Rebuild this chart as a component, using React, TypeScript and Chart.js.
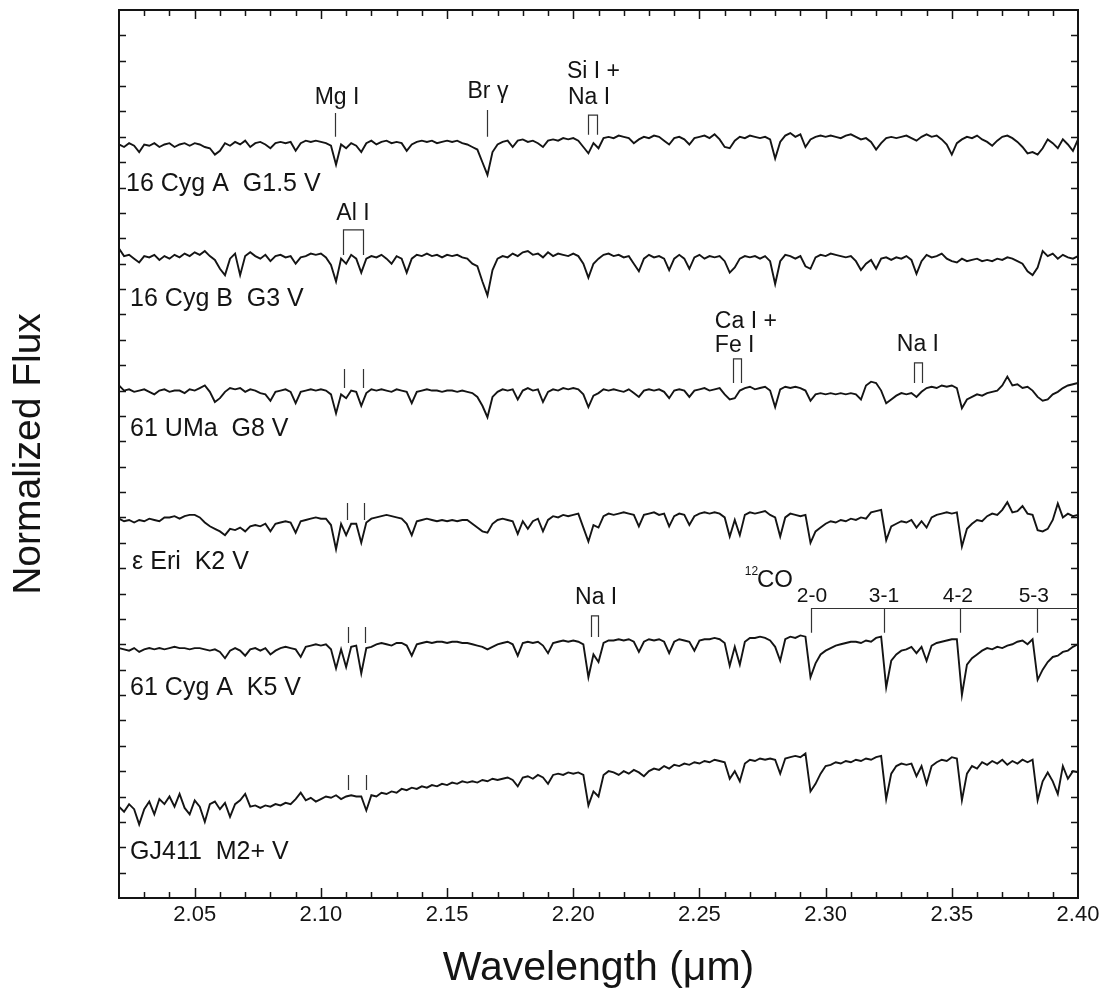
import { useEffect, useRef } from 'react';
import { Chart, registerables } from 'chart.js';

Chart.register(...registerables);

const FONT = '"Liberation Sans", Arial, Helvetica, sans-serif';
const INK = '#141414';

// Wavelength grid (micron)
const WAVELENGTHS = [
  2.020, 2.022, 2.024, 2.026, 2.028, 2.030, 2.032, 2.034, 2.036, 2.038,
  2.040, 2.042, 2.044, 2.046, 2.048, 2.050, 2.052, 2.054, 2.056, 2.058,
  2.060, 2.062, 2.064, 2.066, 2.068, 2.070, 2.072, 2.074, 2.076, 2.078,
  2.080, 2.082, 2.084, 2.086, 2.088, 2.090, 2.092, 2.094, 2.096, 2.098,
  2.100, 2.102, 2.104, 2.106, 2.108, 2.110, 2.112, 2.114, 2.116, 2.118,
  2.120, 2.122, 2.124, 2.126, 2.128, 2.130, 2.132, 2.134, 2.136, 2.138,
  2.140, 2.142, 2.144, 2.146, 2.148, 2.150, 2.152, 2.154, 2.156, 2.158,
  2.160, 2.162, 2.164, 2.166, 2.168, 2.170, 2.172, 2.174, 2.176, 2.178,
  2.180, 2.182, 2.184, 2.186, 2.188, 2.190, 2.192, 2.194, 2.196, 2.198,
  2.200, 2.202, 2.204, 2.206, 2.208, 2.210, 2.212, 2.214, 2.216, 2.218,
  2.220, 2.222, 2.224, 2.226, 2.228, 2.230, 2.232, 2.234, 2.236, 2.238,
  2.240, 2.242, 2.244, 2.246, 2.248, 2.250, 2.252, 2.254, 2.256, 2.258,
  2.260, 2.262, 2.264, 2.266, 2.268, 2.270, 2.272, 2.274, 2.276, 2.278,
  2.280, 2.282, 2.284, 2.286, 2.288, 2.290, 2.292, 2.294, 2.296, 2.298,
  2.300, 2.302, 2.304, 2.306, 2.308, 2.310, 2.312, 2.314, 2.316, 2.318,
  2.320, 2.322, 2.324, 2.326, 2.328, 2.330, 2.332, 2.334, 2.336, 2.338,
  2.340, 2.342, 2.344, 2.346, 2.348, 2.350, 2.352, 2.354, 2.356, 2.358,
  2.360, 2.362, 2.364, 2.366, 2.368, 2.370, 2.372, 2.374, 2.376, 2.378,
  2.380, 2.382, 2.384, 2.386, 2.388, 2.390, 2.392, 2.394, 2.396, 2.398,
  2.400,
];

// Normalized flux of each star
const FLUX_16_CYG_A = [
  0.97, 0.96, 0.975, 0.965, 0.94, 0.97, 0.965, 0.975, 0.96, 0.97,
  0.975, 0.96, 0.97, 0.975, 0.965, 0.975, 0.97, 0.96, 0.955, 0.93,
  0.945, 0.975, 0.965, 0.98, 0.97, 0.985, 0.96, 0.975, 0.98, 0.97,
  0.955, 0.975, 0.98, 0.975, 0.98, 0.945, 0.975, 0.985, 0.98, 0.985,
  0.98, 0.975, 0.965, 0.89, 0.97, 0.955, 0.975, 0.965, 0.94, 0.975,
  0.985, 0.97, 0.98, 0.985, 0.975, 0.98, 0.975, 0.945, 0.97, 0.98,
  0.985, 0.98, 0.985, 0.975, 0.98, 0.985, 0.98, 0.985, 0.975, 0.97,
  0.96, 0.95, 0.90, 0.85, 0.94, 0.97, 0.98, 0.985, 0.96, 0.985,
  0.99, 0.98, 0.985, 0.975, 0.96, 0.985, 0.99, 0.985, 0.995, 0.99,
  0.995, 0.985, 0.96, 0.935, 0.975, 0.955, 0.995, 1.0, 0.995, 1.005,
  1.0, 0.995, 0.975, 0.99, 1.0, 0.995, 1.005, 1.0, 0.985, 0.97,
  0.995, 1.0, 0.99, 0.97, 0.995, 1.0, 1.005, 0.995, 1.01, 0.99,
  0.96, 0.955, 0.985, 1.0, 0.995, 1.005, 1.0, 0.995, 1.0, 0.99,
  0.915, 0.98, 1.005, 1.015, 1.0, 1.01, 0.96, 0.99, 1.0, 1.005,
  1.0, 1.005, 1.0, 0.995, 1.005, 1.01, 1.0, 0.99, 0.995, 0.98,
  0.95, 0.975, 0.995, 1.0, 0.995, 1.0, 1.005, 0.995, 0.985, 1.0,
  1.01, 1.0, 1.005, 0.99, 0.97, 0.93, 0.975, 0.99, 1.0, 0.995,
  1.005, 0.99, 0.98, 0.965, 0.985, 1.0, 1.005, 0.995, 0.98, 0.96,
  0.935, 0.94, 0.93, 0.955, 0.99, 0.975, 0.955, 0.99, 0.97, 0.945,
  0.99,
];

const FLUX_16_CYG_B = [
  1.06, 1.03, 1.035, 1.02, 1.005, 1.03, 1.025, 1.035, 1.015, 1.03,
  1.02, 1.035, 1.025, 1.04, 1.03, 1.045, 1.035, 1.05, 1.03, 1.015,
  0.98, 0.955, 1.02, 1.04, 0.955, 1.03, 1.045, 1.03, 1.02, 1.035,
  1.01, 1.03, 1.035, 1.025, 1.03, 1.0, 1.025, 1.03, 1.04, 1.035,
  1.04, 1.025, 0.995, 0.93, 1.02, 1.0, 1.035, 1.02, 0.965, 1.02,
  1.03, 1.025, 1.035, 1.02, 1.0, 1.03, 1.02, 0.965, 1.02, 1.035,
  1.03, 1.04, 1.03, 1.035, 1.025, 1.035, 1.03, 1.035, 1.025, 1.02,
  1.0, 0.99, 0.93, 0.875, 0.975, 1.02, 1.03, 1.025, 1.04, 1.03,
  1.045, 1.05, 1.035, 1.04, 1.025, 1.045, 1.03, 1.04, 1.035, 1.03,
  1.04, 1.03, 1.0, 0.945, 1.0, 1.02, 1.035, 1.04, 1.03, 1.035,
  1.025, 1.03, 1.0, 0.97, 1.02, 1.035, 1.025, 1.03, 1.02, 0.975,
  1.02, 1.035, 1.02, 0.98, 1.025, 1.035, 1.02, 1.03, 1.025, 1.03,
  1.01, 0.965, 0.985, 1.02, 1.03, 1.025, 1.03, 1.02, 1.03, 1.01,
  0.92, 1.01, 1.035, 1.03, 1.02, 1.03, 0.99, 0.98, 1.025, 1.035,
  1.03, 1.04, 1.035, 1.03, 1.025, 1.03, 1.01, 0.975, 1.0, 1.015,
  0.98, 1.02, 1.025, 1.015, 1.025, 1.02, 1.03, 1.015, 0.96, 1.01,
  1.035, 1.025, 1.03, 1.04, 1.02, 1.01, 1.005, 1.02, 1.01, 1.015,
  1.02, 1.01, 1.015, 1.01, 1.02, 1.015, 1.025, 1.02, 1.01, 1.0,
  0.97, 0.955, 0.985, 1.05, 1.03, 1.04, 1.02, 1.035, 1.025, 1.02,
  1.03,
];

const FLUX_61_UMA = [
  1.02, 1.0, 1.005, 0.995, 1.0, 1.005, 0.995, 0.985, 1.0, 1.005,
  0.995, 1.0, 1.0, 0.99, 1.005, 1.0, 1.01, 1.02, 0.995, 0.955,
  0.97, 0.995, 1.01, 1.005, 1.01, 0.995, 1.005, 1.0, 0.99, 0.985,
  0.96, 0.995, 1.0, 1.005, 0.995, 0.95, 0.995, 1.0, 1.005, 1.0,
  1.005, 1.0, 0.985, 0.91, 0.985, 0.97, 1.0, 0.995, 0.94, 0.99,
  1.005, 1.0, 1.005, 1.0, 0.995, 1.005, 1.0, 0.995, 0.95, 0.995,
  1.0, 1.005, 1.0, 1.0, 0.995, 1.0, 1.0, 0.995, 1.0, 0.995,
  0.99, 0.975, 0.94, 0.895, 0.975, 0.995, 1.005, 1.0, 1.005, 0.965,
  1.0, 1.01, 1.0, 1.005, 0.955, 0.995, 1.005, 1.0, 1.01, 1.005,
  1.01, 1.005, 0.985, 0.935, 0.98, 0.99, 1.005, 1.0, 1.005, 1.0,
  0.995, 1.005, 0.99, 0.975, 1.0, 1.005, 1.0, 1.005, 0.995, 0.97,
  1.0, 1.005, 1.0, 0.975, 1.0, 1.005, 1.01, 1.0, 1.005, 1.01,
  0.985, 0.965, 0.97, 1.0, 1.01, 1.015, 1.005, 1.01, 1.015, 1.0,
  0.935, 1.005, 1.015, 1.01, 1.015, 1.01, 1.0, 0.96, 0.985, 0.99,
  0.985, 0.99, 0.985, 0.99, 0.985, 0.99, 0.985, 0.965, 1.02, 1.035,
  1.03, 1.0, 0.95, 0.965, 0.98, 0.99, 0.985, 0.99, 0.975, 0.995,
  1.01, 1.015, 1.01, 1.02, 1.015, 1.02, 1.01, 0.93, 0.965, 0.975,
  0.985, 0.98, 0.99, 0.995, 1.0, 1.02, 1.055, 1.02, 1.025, 1.01,
  1.015, 1.0, 0.975, 0.96, 0.965, 0.985, 0.995, 1.01, 1.02, 1.025,
  1.03,
];

const FLUX_EPS_ERI = [
  0.995, 0.985, 0.99, 0.98, 0.99, 0.985, 0.995, 0.99, 0.985, 1.0,
  1.0, 1.005, 0.995, 1.005, 1.01, 1.01, 1.0, 0.98, 0.965, 0.955,
  0.945, 0.93, 0.955, 0.95, 0.96, 0.945, 0.965, 0.97, 0.965, 0.975,
  0.945, 0.975, 0.98, 0.985, 0.98, 0.94, 0.985, 0.99, 0.995, 1.0,
  0.995, 0.995, 0.97, 0.875, 0.975, 0.93, 0.975, 0.975, 0.9, 0.98,
  0.995, 1.0, 1.005, 1.01, 1.005, 1.0, 0.995, 0.975, 0.93, 0.985,
  0.99, 0.995, 0.99, 0.985, 0.99, 0.985, 0.99, 0.985, 0.99, 0.99,
  0.975, 0.96, 0.945, 0.94, 0.975, 0.99, 0.995, 0.99, 0.985, 0.935,
  0.985, 0.955, 0.985, 0.995, 0.945, 0.99, 1.005, 1.0, 1.01, 1.005,
  1.01, 1.015, 0.96, 0.905, 0.97, 0.96, 1.005, 1.015, 1.01, 1.015,
  1.02, 1.015, 1.01, 0.965, 1.01, 1.015, 1.02, 1.01, 1.015, 0.965,
  1.005, 1.015, 1.01, 0.97, 1.005, 1.015, 1.02, 1.015, 1.02, 1.015,
  1.0, 0.925, 0.99, 0.93, 1.01, 1.02, 1.015, 1.02, 1.025, 1.01,
  1.0, 0.925, 1.0, 1.015, 1.01, 1.005, 1.01, 0.9, 0.945, 0.96,
  0.975, 0.985, 0.98, 0.99, 0.985, 0.995, 0.99, 1.0, 0.995, 1.02,
  1.025, 1.03, 0.91, 0.965, 0.975, 0.985, 0.98, 0.99, 0.96, 0.985,
  0.96, 1.0, 1.01, 1.015, 1.02, 1.015, 1.02, 0.885, 0.955, 0.975,
  0.99, 0.985, 1.005, 1.015, 1.01, 1.03, 1.06, 1.02, 1.025, 1.045,
  1.015, 1.01, 0.95, 0.945, 0.955, 0.99, 1.055, 1.0, 1.015, 1.005,
  1.01,
];

const FLUX_61_CYG_A = [
  0.985, 0.98, 0.975, 0.985, 0.97, 0.98, 0.985, 0.98, 0.985, 0.98,
  0.985, 0.99, 0.985, 0.985, 0.98, 0.985, 0.985, 0.98, 0.975, 0.98,
  0.97, 0.945, 0.975, 0.985, 0.975, 0.955, 0.98, 0.985, 0.975, 0.985,
  0.96, 0.975, 0.985, 0.99, 0.985, 0.98, 0.95, 0.99, 0.995, 1.0,
  0.995, 1.0, 0.98, 0.905, 0.98, 0.91, 0.99, 0.995, 0.885, 0.985,
  0.99, 1.0, 1.005, 1.0, 0.995, 1.005, 1.005, 0.995, 0.955, 1.0,
  1.005, 1.01, 1.005, 1.01, 1.01, 1.005, 1.01, 1.01, 1.005, 1.005,
  1.0, 0.995, 0.99, 0.98, 0.99, 1.0, 1.005, 1.01, 1.0, 0.955,
  1.005, 1.01, 1.005, 1.01, 0.995, 0.965, 1.005, 1.01, 1.015, 1.01,
  1.015, 1.01, 1.0, 0.87, 0.96, 0.93, 1.005, 1.015, 1.015, 1.02,
  1.015, 1.02, 1.01, 0.97, 1.01, 1.02, 1.015, 1.02, 1.01, 0.965,
  1.01, 1.02, 1.015, 1.01, 0.975, 1.015, 1.02, 1.02, 1.025, 1.02,
  1.005, 0.915, 0.99, 0.92, 1.01, 1.025, 1.025, 1.03, 1.025, 1.015,
  0.99, 0.935, 1.02, 1.03, 1.025, 1.035, 1.03, 0.87, 0.925, 0.96,
  0.975, 0.985, 0.995, 1.0, 1.005, 1.01, 1.01, 1.005, 1.015, 1.01,
  1.025, 1.03, 0.83, 0.935, 0.96, 0.975, 0.98, 0.99, 0.965, 0.99,
  0.935, 0.995, 1.005, 1.01, 1.015, 1.02, 1.02, 0.80, 0.92, 0.945,
  0.96, 0.975, 0.985, 0.98, 0.99, 0.985, 0.995, 1.0, 1.01, 1.015,
  1.0, 1.02, 0.86, 0.9, 0.93, 0.95, 0.955, 0.97, 0.975, 0.99,
  1.0,
];

const FLUX_GJ411 = [
  0.86, 0.84, 0.87, 0.85, 0.79, 0.85, 0.88, 0.83, 0.89, 0.87,
  0.9, 0.86, 0.91, 0.855, 0.83, 0.885, 0.86, 0.80, 0.87, 0.88,
  0.85, 0.875, 0.82, 0.87, 0.885, 0.91, 0.86, 0.865, 0.855, 0.865,
  0.86, 0.87, 0.865, 0.875, 0.87, 0.89, 0.915, 0.885, 0.895, 0.88,
  0.89, 0.9, 0.895, 0.905, 0.89, 0.9, 0.905, 0.9, 0.9, 0.845,
  0.905, 0.9, 0.915, 0.91, 0.92, 0.915, 0.93, 0.925, 0.935, 0.93,
  0.94, 0.935, 0.945, 0.94, 0.95, 0.945, 0.955, 0.95, 0.96, 0.955,
  0.96, 0.955, 0.965, 0.96, 0.97, 0.965, 0.97, 0.975, 0.965, 0.94,
  0.975, 0.98, 0.97, 0.985, 0.975, 0.95, 0.985, 0.99, 0.985, 0.995,
  0.99, 0.995, 0.985, 0.865, 0.92, 0.9, 0.985, 1.0, 0.995, 0.985,
  1.0, 0.99, 1.005, 0.995, 0.98, 1.0, 1.01, 1.005, 1.02, 1.01,
  1.025, 1.02, 1.03, 1.025, 1.035, 1.03, 1.04, 1.035, 1.045, 1.04,
  1.035, 0.97, 1.0, 0.96, 1.03, 1.045, 1.04, 1.05, 1.045, 1.05,
  1.045, 0.99, 1.05, 1.055, 1.06, 1.055, 1.07, 0.92, 0.95, 0.99,
  1.02, 1.025, 1.035, 1.03, 1.04, 1.035, 1.045, 1.04, 1.05, 1.045,
  1.055, 1.06, 0.89, 0.99, 1.02, 1.03, 1.025, 1.03, 0.98, 1.02,
  0.95, 1.02, 1.035, 1.045, 1.04, 1.055, 1.05, 0.885, 0.99, 1.02,
  1.01, 1.035, 1.025, 1.04, 1.03, 1.045, 1.025, 1.04, 1.03, 1.045,
  1.035, 1.045, 0.885, 0.96, 0.995, 0.96, 0.91, 1.02, 0.97, 1.0,
  0.995,
];

const STAR_NAMES = [
  '16 Cyg A  G1.5 V',
  '16 Cyg B  G3 V',
  '61 UMa  G8 V',
  'ε Eri  K2 V',
  '61 Cyg A  K5 V',
  'GJ411  M2+ V',
];
const STAR_FLUXES = [FLUX_16_CYG_A, FLUX_16_CYG_B, FLUX_61_UMA, FLUX_EPS_ERI, FLUX_61_CYG_A, FLUX_GJ411];
// vertical offsets added for display
const OFFSETS = [2.0, 1.5, 1.0, 0.5, 0.0, -0.5];

const X_LABEL_TICKS = [2.05, 2.10, 2.15, 2.20, 2.25, 2.30, 2.35, 2.40];
const X_MINOR_TICKS = [
  2.03, 2.04, 2.05, 2.06, 2.07, 2.08, 2.09, 2.10, 2.11, 2.12, 2.13, 2.14, 2.15,
  2.16, 2.17, 2.18, 2.19, 2.20, 2.21, 2.22, 2.23, 2.24, 2.25, 2.26, 2.27, 2.28,
  2.29, 2.30, 2.31, 2.32, 2.33, 2.34, 2.35, 2.36, 2.37, 2.38, 2.39,
];
const Y_TICKS = [
  0.1, 0.2, 0.3, 0.4, 0.5, 0.6, 0.7, 0.8, 0.9, 1.0, 1.1, 1.2, 1.3, 1.4, 1.5, 1.6, 1.7,
  1.8, 1.9, 2.0, 2.1, 2.2, 2.3, 2.4, 2.5, 2.6, 2.7, 2.8, 2.9, 3.0, 3.1, 3.2, 3.3, 3.4,
];

// Annotation layout (wavelength, display-axis value)
const STAR_LABEL_POS = [
  [2.0228, 2.814],
  [2.0244, 2.361],
  [2.0244, 1.849],
  [2.0252, 1.324],
  [2.0244, 0.828],
  [2.0244, 0.181],
];
const MARK_LINES = [
  [2.1056, 3.094, 3.0],
  [2.1658, 3.106, 3.0],
  [2.1091, 2.085, 2.01], [2.1167, 2.085, 2.01],
  [2.1103, 1.557, 1.49], [2.1171, 1.557, 1.49],
  [2.1107, 1.068, 1.005], [2.1175, 1.068, 1.005],
  [2.1107, 0.485, 0.426], [2.1179, 0.485, 0.426],
  [2.2942, 1.143, 1.045], [2.3233, 1.143, 1.045], [2.3534, 1.143, 1.045], [2.3837, 1.143, 1.045],
];
const MARK_BRACKETS = [
  [2.2058, 2.2094, 3.086, 3.008],
  [2.1087, 2.1167, 2.633, 2.534],
  [2.2633, 2.2664, 2.125, 2.03],
  [2.3350, 2.3381, 2.109, 2.03],
  [2.2070, 2.2098, 1.112, 1.029],
];
const CO_BAR = [2.2942, 2.40, 1.143];
const ANNOTATION_TEXTS: [string, number, number, CanvasTextAlign, number][] = [
  ['Mg I', 2.1064, 3.153, 'center', 23],
  ['Br γ', 2.1662, 3.177, 'center', 23],
  ['Si I +', 2.1975, 3.256, 'left', 23],
  ['Na I', 2.1979, 3.153, 'left', 23],
  ['Al I', 2.1127, 2.696, 'center', 23],
  ['Ca I +', 2.2561, 2.27, 'left', 23],
  ['Fe I', 2.2561, 2.176, 'left', 23],
  ['Na I', 2.3282, 2.18, 'left', 23],
  ['Na I', 2.2007, 1.1825, 'left', 23],
  ['12', 2.268, 1.285, 'left', 12],
  ['CO', 2.2728, 1.253, 'left', 24],
  ['2-0', 2.2946, 1.19, 'center', 21],
  ['3-1', 2.3231, 1.19, 'center', 21],
  ['4-2', 2.3524, 1.19, 'center', 21],
  ['5-3', 2.3825, 1.19, 'center', 21],
];

const overlayPlugin = {
  id: 'spectraOverlay',
  afterDraw(chart: any) {
    const { ctx, chartArea, scales } = chart;
    const px = (v: number) => scales.x.getPixelForValue(v);
    const py = (v: number) => scales.y.getPixelForValue(v);
    ctx.save();
    // inward tick marks on all four sides
    ctx.strokeStyle = INK;
    ctx.lineWidth = 1.5;
    ctx.beginPath();
    for (const v of X_MINOR_TICKS) {
      const major = X_LABEL_TICKS.some((t) => Math.abs(t - v) < 1e-9);
      const x = Math.round(px(v)) + 0.5;
      ctx.moveTo(x, chartArea.bottom);
      ctx.lineTo(x, chartArea.bottom - (major ? 10 : 6));
      ctx.moveTo(x, chartArea.top);
      ctx.lineTo(x, chartArea.top + (major ? 9 : 6));
    }
    for (const v of Y_TICKS) {
      const y = Math.round(py(v)) + 0.5;
      ctx.moveTo(chartArea.left, y);
      ctx.lineTo(chartArea.left + 7, y);
      ctx.moveTo(chartArea.right, y);
      ctx.lineTo(chartArea.right - 7, y);
    }
    ctx.stroke();

    // line identification markers
    ctx.strokeStyle = '#333';
    ctx.lineWidth = 1.2;
    ctx.beginPath();
    for (const [w, y0, y1] of MARK_LINES) {
      const x = Math.round(px(w)) + 0.5;
      ctx.moveTo(x, py(y0));
      ctx.lineTo(x, py(y1));
    }
    for (const [w0, w1, yTop, yBot] of MARK_BRACKETS) {
      const x0 = Math.round(px(w0)) + 0.5;
      const x1 = Math.round(px(w1)) + 0.5;
      ctx.moveTo(x0, py(yBot));
      ctx.lineTo(x0, py(yTop));
      ctx.lineTo(x1, py(yTop));
      ctx.lineTo(x1, py(yBot));
    }
    const barY = Math.round(py(CO_BAR[2])) + 0.5;
    ctx.moveTo(px(CO_BAR[0]), barY);
    ctx.lineTo(px(CO_BAR[1]), barY);
    ctx.stroke();

    // texts
    ctx.fillStyle = INK;
    ctx.textBaseline = 'middle';
    for (const [text, w, y, align, size] of ANNOTATION_TEXTS) {
      ctx.font = `${size}px ${FONT}`;
      ctx.textAlign = align;
      ctx.fillText(text, px(w), py(y));
    }
    ctx.font = `25px ${FONT}`;
    ctx.textAlign = 'left';
    STAR_NAMES.forEach((name, i) => {
      const [w, y] = STAR_LABEL_POS[i];
      ctx.fillText(name, px(w), py(y));
    });
    ctx.restore();
  },
};

const borderOpts = { display: true, color: INK, width: 2 };

export default function App() {
  const ref = useRef<HTMLCanvasElement>(null);
  useEffect(() => {
    if (!ref.current) return;
    const datasets = STAR_NAMES.map((name, s) => ({
      label: name,
      data: WAVELENGTHS.map((w, i) => ({ x: w, y: STAR_FLUXES[s][i] + OFFSETS[s] })),
      borderColor: INK,
      borderWidth: 1.9,
      pointRadius: 0,
      tension: 0,
      fill: false,
      xAxisID: 'x',
      yAxisID: 'y',
    }));
    const chart = new Chart(ref.current, {
      type: 'line',
      data: { datasets },
      options: {
        animation: false,
        responsive: true,
        maintainAspectRatio: false,
        layout: { padding: 0 },
        plugins: { legend: { display: false }, tooltip: { enabled: false } },
        scales: {
          x: {
            type: 'linear',
            position: 'bottom',
            min: 2.02,
            max: 2.4,
            afterBuildTicks: (s: any) => {
              s.ticks = X_LABEL_TICKS.map((v) => ({ value: v }));
            },
            afterFit: (s: any) => {
              s.height = 105;
            },
            ticks: {
              autoSkip: false,
              maxRotation: 0,
              padding: 4,
              color: INK,
              font: { family: FONT, size: 22 },
              callback: (v: any) => Number(v).toFixed(2),
            },
            grid: { display: false, drawTicks: false },
            border: borderOpts,
            title: {
              display: true,
              text: 'Wavelength (μm)',
              color: INK,
              font: { family: FONT, size: 41 },
              padding: { top: 0, bottom: 10 },
            },
          },
          xTop: {
            type: 'linear',
            position: 'top',
            min: 2.02,
            max: 2.4,
            ticks: { display: false },
            grid: { display: false, drawTicks: false },
            border: borderOpts,
            afterFit: (s: any) => {
              s.height = 10;
            },
          },
          y: {
            type: 'linear',
            position: 'left',
            min: 0,
            max: 3.5,
            ticks: { display: false },
            grid: { display: false, drawTicks: false },
            border: borderOpts,
            title: {
              display: true,
              text: 'Normalized Flux',
              color: INK,
              font: { family: FONT, size: 39 },
              padding: { top: 6, bottom: 0 },
            },
            afterFit: (s: any) => {
              s.width = 119;
            },
          },
          yRight: {
            type: 'linear',
            position: 'right',
            min: 0,
            max: 3.5,
            ticks: { display: false },
            grid: { display: false, drawTicks: false },
            border: borderOpts,
            afterFit: (s: any) => {
              s.width = 28;
            },
          },
        },
      } as any,
      plugins: [overlayPlugin],
    });
    return () => chart.destroy();
  }, []);
  return (
    <div style={{ position: 'fixed', left: 0, top: 0, width: 1106, height: 1003, background: '#fff' }}>
      <canvas ref={ref} />
    </div>
  );
}
